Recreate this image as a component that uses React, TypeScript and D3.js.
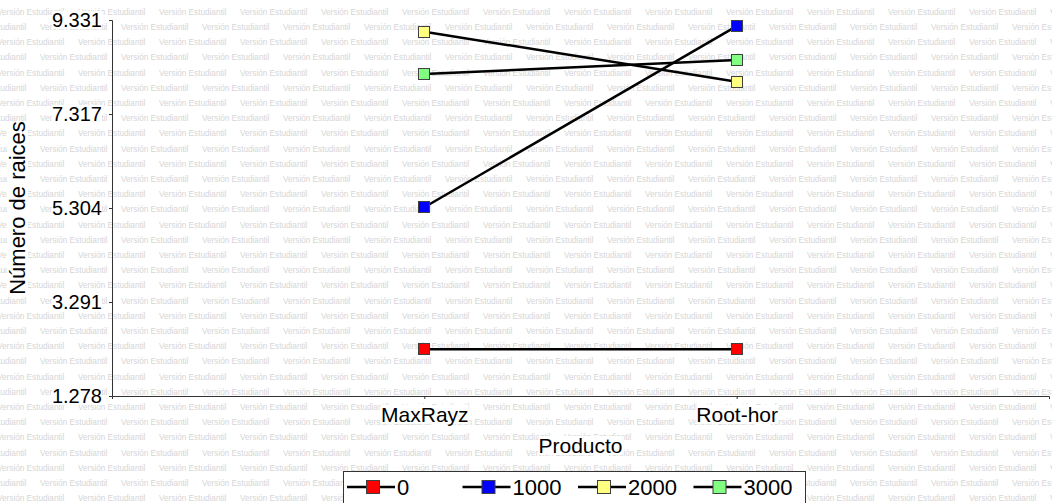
import React, { useEffect, useRef } from 'react';
import * as d3 from 'd3';

// chart data
const categories = ['MaxRayz', 'Root-hor'];
const seriesNames = ['0', '1000', '2000', '3000'];
const values0 = [2.278, 2.278];
const values1000 = [5.32, 9.2];
const values2000 = [9.08, 8.01];
const values3000 = [8.175, 8.474];
const seriesColors = ['#ff0000', '#0000ff', '#ffff80', '#80ff80'];
const yTicks = [1.278, 3.291, 5.304, 7.317, 9.331];

const W = 1052;
const H = 503;
const FONT = '"Liberation Sans", Arial, sans-serif';

const App: React.FC = () => {
  const svgRef = useRef<SVGSVGElement | null>(null);

  useEffect(() => {
    if (!svgRef.current) return;
    const svg = d3.select(svgRef.current);
    svg.selectAll('*').remove();

    const series = [values0, values1000, values2000, values3000].map((vals, i) => ({
      name: seriesNames[i],
      color: seriesColors[i],
      points: vals.map((v, j) => ({ cat: categories[j], value: v }))
    }));

    // plot area
    const left = 112;
    const right = 1049;
    const top = 20;
    const bottom = 396;

    const x = d3.scalePoint<string>().domain(categories).range([left, right]).padding(1);
    const y = d3.scaleLinear().domain([yTicks[0], yTicks[yTicks.length - 1]]).range([bottom, top]);

    svg.append('rect').attr('width', W).attr('height', H).attr('fill', '#fff');

    // "Versión Estudiantil" watermark behind everything
    const wm = svg.append('g').attr('font-family', FONT).attr('font-size', 8.2).attr('fill', '#d6d6d6');
    d3.range(34).forEach((k) => {
      const offset = k % 2 === 0 ? -3 : 40;
      d3.range(-1, 14).forEach((n) => {
        wm.append('text')
          .attr('x', offset + 81 * n)
          .attr('y', 14.7 + 15.2 * k)
          .text('Versión Estudiantil');
      });
    });

    // white box behind a text, like the reference does
    const addBg = (sel: d3.Selection<any, any, any, any>) => {
      sel.each(function (this: any) {
        const node = this as SVGTextElement;
        const b = node.getBBox();
        const r = document.createElementNS('http://www.w3.org/2000/svg', 'rect');
        r.setAttribute('x', String(b.x));
        r.setAttribute('y', String(b.y + 2));
        r.setAttribute('width', String(b.width));
        r.setAttribute('height', String(b.height - 4));
        r.setAttribute('fill', '#fff');
        const t = node.getAttribute('transform');
        if (t) r.setAttribute('transform', t);
        node.parentNode!.insertBefore(r, node);
      });
    };

    // y axis
    const yAxis = d3
      .axisLeft(y)
      .tickValues(yTicks)
      .tickFormat((d) => d3.format('.3f')(d as number))
      .tickSize(3)
      .tickSizeOuter(3)
      .tickPadding(7);
    const gy = svg.append('g').attr('transform', `translate(${left},0)`).call(yAxis);
    gy.selectAll('path, line').attr('stroke', '#333');
    gy.selectAll('text').attr('font-family', FONT).attr('font-size', 20).attr('fill', '#000');
    addBg(gy.selectAll('text'));

    // x axis
    const xAxis = d3.axisBottom(x).tickSize(3).tickSizeOuter(3).tickPadding(8);
    const gx = svg.append('g').attr('transform', `translate(0,${bottom})`).call(xAxis);
    gx.selectAll('path, line').attr('stroke', '#333');
    gx.selectAll('text').attr('font-family', FONT).attr('font-size', 21).attr('fill', '#000');
    addBg(gx.selectAll('text'));

    // axis titles
    const xt = svg
      .append('text')
      .attr('x', (left + right) / 2)
      .attr('y', 453)
      .attr('text-anchor', 'middle')
      .attr('font-family', FONT)
      .attr('font-size', 21)
      .text('Producto');
    addBg(xt);

    const yt = svg
      .append('g')
      .attr('transform', `translate(25,${(top + bottom) / 2}) rotate(-90)`)
      .append('text')
      .attr('text-anchor', 'middle')
      .attr('font-family', FONT)
      .attr('font-size', 22)
      .text('Número de raices');
    addBg(yt);

    // lines
    const line = d3
      .line<{ cat: string; value: number }>()
      .x((d) => x(d.cat) as number)
      .y((d) => y(d.value));

    svg
      .append('g')
      .selectAll('path')
      .data(series)
      .join('path')
      .attr('d', (d) => line(d.points))
      .attr('fill', 'none')
      .attr('stroke', '#000')
      .attr('stroke-width', 2.5);

    // markers
    series.forEach((s) => {
      svg
        .append('g')
        .selectAll('rect')
        .data(s.points)
        .join('rect')
        .attr('x', (d) => Math.round(x(d.cat) as number) - 5.5)
        .attr('y', (d) => Math.round(y(d.value)) - 5.5)
        .attr('width', 11)
        .attr('height', 11)
        .attr('fill', s.color)
        .attr('stroke', '#404040')
        .attr('stroke-width', 1);
    });

    // legend
    const lg = svg.append('g');
    lg.append('rect')
      .attr('x', 343.5)
      .attr('y', 471.5)
      .attr('width', 462)
      .attr('height', 40)
      .attr('fill', '#fff')
      .attr('stroke', '#333');
    const item = lg
      .selectAll('g')
      .data(series)
      .join('g')
      .attr('transform', (_d, i) => `translate(${347 + i * 115.5},487)`);
    item.append('line').attr('x1', 0).attr('x2', 48).attr('stroke', '#000').attr('stroke-width', 2.5);
    item
      .append('rect')
      .attr('x', 19.5)
      .attr('y', -6.5)
      .attr('width', 13)
      .attr('height', 13)
      .attr('fill', (d) => d.color)
      .attr('stroke', '#404040');
    item
      .append('text')
      .attr('x', 50)
      .attr('y', 8)
      .attr('font-family', FONT)
      .attr('font-size', 22)
      .text((d) => d.name);
  }, []);

  return (
    <div style={{ position: 'absolute', left: 0, top: 0 }}>
      <svg ref={svgRef} width={W} height={H} style={{ display: 'block' }} />
    </div>
  );
};

export default App;
